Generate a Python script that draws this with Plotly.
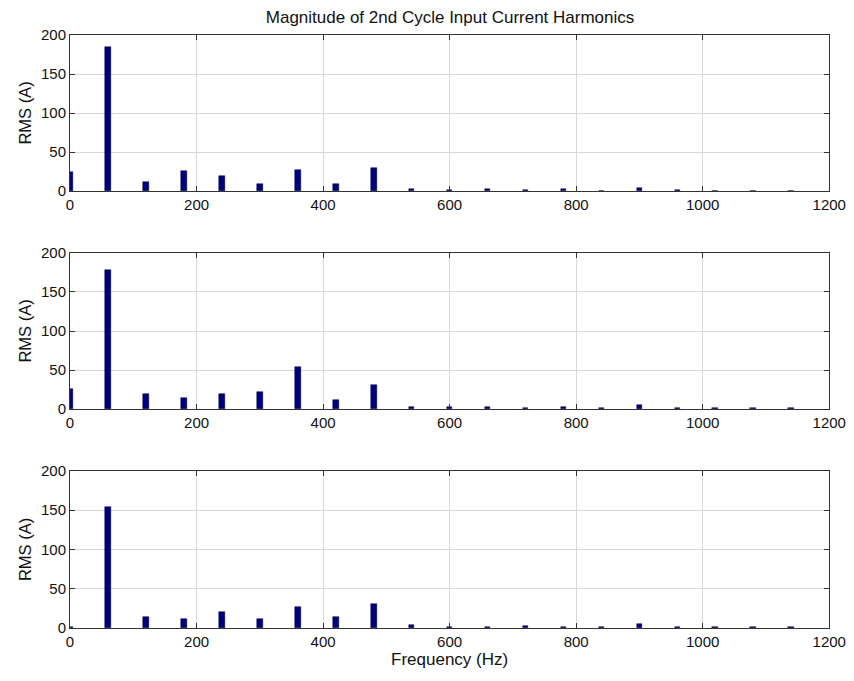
import plotly.graph_objects as go
from plotly.subplots import make_subplots

# Harmonic frequencies (Hz): DC plus multiples of 60 Hz
freqs = [0, 60, 120, 180, 240, 300, 360, 420, 480, 540, 600, 660, 720, 780,
         840, 900, 960, 1020, 1080, 1140]

# RMS magnitude (A) of each harmonic, one list per phase panel
rms_a = [24, 185, 11, 26, 19, 9.5, 27, 9, 29, 2, 1, 3, 1.3, 3,
         0.5, 4.2, 1, 0.5, 0.5, 0.5]
rms_b = [26, 178, 19, 14, 19, 22, 54, 11.5, 31, 2, 3, 3, 1.5, 2,
         1.5, 5, 1, 1, 1.5, 1.5]
rms_c = [1, 154, 14, 12, 20, 12, 27, 14, 31, 4, 1.5, 0.8, 3, 1.5,
         1, 5, 1, 1, 1, 1]

x_ticks = [0, 200, 400, 600, 800, 1000, 1200]
y_ticks = [0, 50, 100, 150, 200]

title_text = "Magnitude of 2nd Cycle Input Current Harmonics"
x_title = "Frequency (Hz)"
y_title = "RMS (A)"

BAR_COLOR = "#00007f"
FONT = "Liberation Sans, Arial, Helvetica, sans-serif"
TXT = "#111111"

fig = make_subplots(rows=3, cols=1)

series = [rms_a, rms_b, rms_c]
for i, vals in enumerate(series, start=1):
    fig.add_trace(
        go.Bar(x=freqs, y=vals, width=9,
               marker=dict(color=BAR_COLOR, line=dict(color="#000033", width=0.5)),
               showlegend=False),
        row=i, col=1)

# panel placement (paper fractions)
y_domains = [[0.7195, 0.9486], [0.3994, 0.6285], [0.0778, 0.3084]]
x_domain = [0.082, 0.971]

for i in range(1, 4):
    xa = "xaxis" if i == 1 else f"xaxis{i}"
    ya = "yaxis" if i == 1 else f"yaxis{i}"
    fig.layout[xa].update(
        domain=x_domain, range=[0, 1200], tickvals=x_ticks, automargin=False,
        ticks="inside", ticklen=5, tickcolor="#333333",
        showline=True, linecolor="#333333", linewidth=1, mirror="allticks",
        showgrid=True, gridcolor="#d8d8d8", gridwidth=1, zeroline=False,
        tickfont=dict(family=FONT, size=15, color=TXT),
    )
    fig.layout[ya].update(
        domain=y_domains[i - 1], range=[0, 200], tickvals=y_ticks, automargin=False,
        ticks="inside", ticklen=5, tickcolor="#333333",
        showline=True, linecolor="#333333", linewidth=1, mirror="allticks",
        showgrid=True, gridcolor="#d8d8d8", gridwidth=1, zeroline=False,
        tickfont=dict(family=FONT, size=15, color=TXT),
        title=dict(text=y_title, font=dict(family=FONT, size=16.5, color=TXT),
                   standoff=5),
    )

fig.layout.xaxis3.title = dict(text=x_title,
                               font=dict(family=FONT, size=17, color=TXT),
                               standoff=4)

fig.update_layout(
    width=854, height=681,
    margin=dict(l=0, r=0, t=0, b=0),
    paper_bgcolor="white", plot_bgcolor="white",
    bargap=0,
    title=dict(text=title_text, x=0.527, xanchor="center", y=0.975, yanchor="middle",
               font=dict(family=FONT, size=17, color=TXT)),
)

fig.write_html("out.html")
